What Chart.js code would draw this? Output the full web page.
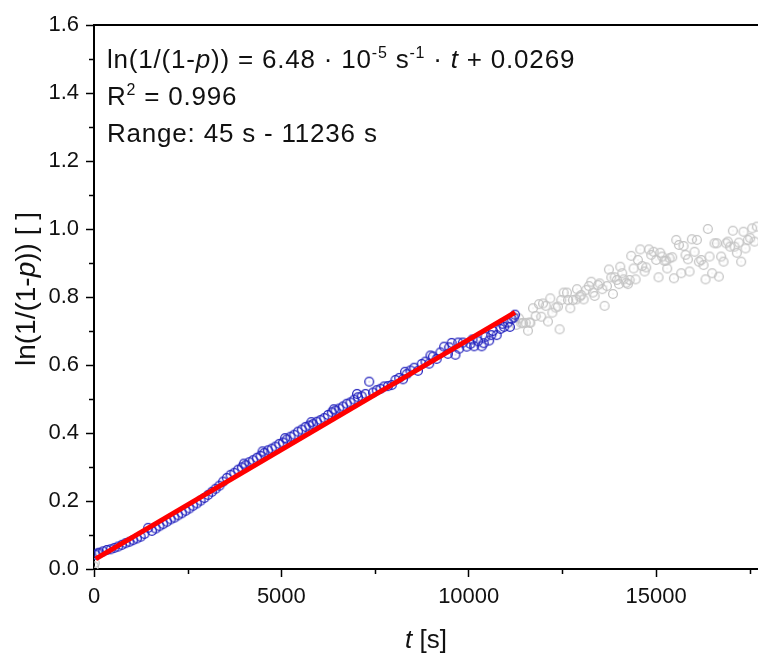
<!DOCTYPE html>
<html>
<head>
<meta charset="utf-8">
<script src="https://cdn.jsdelivr.net/npm/chart.js@4.4.0/dist/chart.umd.min.js"></script>
<style>
    html, body { margin: 0; padding: 0; background: #fff; }
    #wrap { width: 758px; height: 654px; }
</style>
</head>
<body>
<div id="wrap"><canvas id="chart" width="758" height="654"></canvas></div>
<script>
// ===== datos =====

// puntos dentro del rango del ajuste [t (s), ln(1/(1-p))]
const datosAjuste = [
    [45, .042], [100, .046], [145, .048], [245, .052], [345, .056], [445, .058], [545, .062],
    [645, .066], [745, .071], [845, .076], [945, .080], [1045, .085], [1145, .090], [1245, .095],
    [1345, .103], [1445, .121], [1545, .112], [1645, .119], [1745, .126], [1845, .132], [1945, .139],
    [2045, .146], [2145, .151], [2245, .158], [2345, .164], [2445, .171], [2545, .178], [2645, .186],
    [2745, .193], [2845, .201], [2945, .209], [3045, .218], [3145, .227], [3245, .236], [3345, .245],
    [3445, .257], [3545, .268], [3645, .277], [3745, .283], [3845, .292], [3945, .299], [4000, .310],
    [4045, .305], [4145, .314], [4245, .320], [4345, .327], [4445, .333], [4500, .346], [4545, .341],
    [4645, .349], [4745, .354], [4845, .360], [4945, .368], [5045, .372], [5100, .385], [5145, .381],
    [5245, .389], [5345, .395], [5445, .404], [5545, .410], [5645, .418], [5745, .422], [5800, .432],
    [5845, .426], [5945, .433], [6045, .438], [6145, .444], [6245, .453], [6345, .461], [6400, .470],
    [6445, .466], [6545, .472], [6645, .478], [6745, .486], [6845, .490], [6945, .498], [7020, .515],
    [7045, .505], [7145, .508], [7245, .515], [7345, .551], [7445, .519], [7545, .526], [7645, .530],
    [7745, .537], [7845, .538], [7945, .541], [8045, .556], [8145, .562], [8245, .558], [8300, .580],
    [8345, .573], [8445, .584], [8545, .592], [8645, .583], [8745, .603], [8845, .610], [8945, .604],
    [8980, .628], [9045, .625], [9145, .618], [9245, .637], [9345, .654], [9445, .633], [9480, .652],
    [9545, .665], [9645, .630], [9720, .666], [9745, .648], [9845, .666], [9945, .654], [10045, .662],
    [10100, .675], [10145, .655], [10245, .670], [10345, .655], [10400, .664], [10445, .683], [10545, .672],
    [10600, .688], [10645, .700], [10745, .688], [10845, .706], [10900, .721], [10945, .712], [11045, .725],
    [11100, .712], [11145, .735], [11200, .740], [11236, .748]
];

// puntos fuera del rango (grises)
const datosFuera = [
    [0, .008], [22, .018],
    [11271, .718], [11342, .737], [11405, .723], [11449, .723], [11520, .724], [11582, .701], [11626, .725],
    [11644, .724], [11715, .767], [11786, .744], [11875, .779], [11937, .742], [11982, .781], [12053, .774],
    [12115, .728], [12177, .796], [12231, .754], [12320, .769], [12382, .772], [12426, .705], [12471, .791],
    [12533, .813], [12622, .813], [12649, .791], [12711, .767], [12782, .791], [12871, .793], [12889, .823],
    [12960, .801], [13004, .806], [13066, .793], [13137, .821], [13208, .832], [13271, .845], [13315, .813],
    [13360, .803], [13449, .835], [13493, .840], [13564, .823], [13626, .774], [13689, .832], [13742, .881],
    [13804, .858], [13849, .809], [13893, .858], [13955, .850], [14009, .838], [14044, .889], [14097, .870],
    [14133, .852], [14204, .842], [14249, .838], [14293, .850], [14337, .921], [14400, .884], [14453, .852],
    [14515, .909], [14578, .940], [14631, .891], [14693, .875], [14737, .887], [14809, .940], [14871, .924],
    [14933, .933], [15004, .909], [15066, .858], [15111, .930], [15164, .919], [15226, .906], [15271, .907],
    [15297, .884], [15360, .914], [15431, .917], [15475, .855], [15537, .968], [15609, .953], [15671, .870],
    [15733, .950], [15786, .924], [15849, .911], [15893, .875], [15955, .970], [16026, .933], [16089, .968],
    [16142, .904], [16204, .909], [16266, .894], [16320, .852], [16382, 1.000], [16426, .919], [16497, .870],
    [16560, .958], [16622, .958], [16675, .860], [16737, .919], [16800, .904], [16871, .958], [16915, .963],
    [16977, .948], [17049, .995], [17093, .948], [17155, .930], [17209, .960], [17271, .904], [17333, .992],
    [17386, .943], [17449, .968], [17511, .973], [17564, 1.002], [17626, .963], [17689, 1.007]
];

// recta de ajuste: ln(1/(1-p)) = 6.48e-5 * t + 0.0269, de 45 s a 11236 s
const ajusteT = [45, 11236];
const ajusteY = [0.0298, 0.7550];

// ejes
const ejeXMax = 17720;
const ejeYMax = 1.6;
const ticksX = [0, 5000, 10000, 15000];
const ticksY = [0, 0.2, 0.4, 0.6, 0.8, 1.0, 1.2, 1.4, 1.6];
const menoresX = [2500, 7500, 12500, 17500];
const menoresY = [0.1, 0.3, 0.5, 0.7, 0.9, 1.1, 1.3, 1.5];

const FUENTE = '"Liberation Sans", Arial, sans-serif';

// marcador: círculo abierto con punto central
function anillo(color) {
    const c = document.createElement('canvas');
    c.width = 12;
    c.height = 12;
    const g = c.getContext('2d');
    g.strokeStyle = color;
    g.lineWidth = 1.3;
    g.beginPath();
    g.arc(6, 6, 4.4, 0, Math.PI * 2);
    g.stroke();
    g.globalAlpha = 0.5;
    g.fillStyle = color;
    g.fillRect(5.5, 5.5, 1, 1);
    return c;
}

// texto con cursiva y superíndices
function fuenteParte(p, size) {
    const s = p[1] === 'sup' ? Math.round(size * 0.62) : size;
    return (p[1] === 'i' ? 'italic ' : '') + s + 'px ' + FUENTE;
}

function anchoRico(ctx, partes, size) {
    let w = 0;
    partes.forEach(p => {
        ctx.font = fuenteParte(p, size);
        w += ctx.measureText(p[0]).width;
    });
    return w;
}

function textoRico(ctx, partes, x, y, size) {
    let cx = x;
    partes.forEach(p => {
        ctx.font = fuenteParte(p, size);
        const dy = p[1] === 'sup' ? -size * 0.4 : 0;
        ctx.fillText(p[0], cx, y + dy);
        cx += ctx.measureText(p[0]).width;
    });
}

const lineasTexto = [
    [['ln(1/(1-', ''], ['p', 'i'], [')) = 6.48 \u00b7 10', ''], ['-5', 'sup'], [' s', ''], ['-1', 'sup'],
     [' \u00b7 ', ''], ['t', 'i'], [' + 0.0269', '']],
    [['R', ''], ['2', 'sup'], [' = 0.996', '']],
    [['Range: 45 s - 11236 s', '']]
];

const pluginDecoracion = {
    id: 'decoracion',
    afterDraw(chart) {
        const ctx = chart.ctx;
        const a = chart.chartArea;
        const sx = chart.scales.x;
        const sy = chart.scales.y;
        ctx.save();

        // borde superior
        ctx.strokeStyle = '#000';
        ctx.lineWidth = 2;
        ctx.beginPath();
        ctx.moveTo(a.left - 1, a.top);
        ctx.lineTo(chart.width, a.top);
        ctx.stroke();

        // marcas menores
        ctx.lineWidth = 1.5;
        ctx.beginPath();
        menoresX.forEach(v => {
            const px = Math.round(sx.getPixelForValue(v)) + 0.5;
            ctx.moveTo(px, a.bottom);
            ctx.lineTo(px, a.bottom + 5);
        });
        menoresY.forEach(v => {
            const py = Math.round(sy.getPixelForValue(v)) + 0.5;
            ctx.moveTo(a.left, py);
            ctx.lineTo(a.left - 5, py);
        });
        ctx.stroke();

        ctx.fillStyle = '#111';
        ctx.textBaseline = 'alphabetic';
        ctx.textAlign = 'left';

        // anotación del ajuste
        ctx.letterSpacing = '0.8px';
        const bases = [68, 105, 142];
        lineasTexto.forEach((l, i) => textoRico(ctx, l, 107, bases[i], 26));
        ctx.letterSpacing = '0px';

        // título eje x
        const tituloX = [['t', 'i'], [' [s]', '']];
        const wx = anchoRico(ctx, tituloX, 26);
        textoRico(ctx, tituloX, (a.left + a.right) / 2 - wx / 2, 648, 26);

        // título eje y
        const tituloY = [['ln(1/(1-', ''], ['p', 'i'], [')) [ ]', '']];
        const wy = anchoRico(ctx, tituloY, 28);
        ctx.translate(35, (a.top + a.bottom) / 2 - 8);
        ctx.rotate(-Math.PI / 2);
        textoRico(ctx, tituloY, -wy / 2, 0, 28);

        ctx.restore();
    }
};

const aPuntos = arr => arr.map(p => ({ x: p[0], y: p[1] }));

new Chart(document.getElementById('chart'), {
    type: 'scatter',
    data: {
        datasets: [
            {
                type: 'line',
                data: ajusteT.map((t, i) => ({ x: t, y: ajusteY[i] })),
                borderColor: '#ff0000',
                borderWidth: 5,
                pointRadius: 0,
                order: 0
            },
            {
                data: aPuntos(datosAjuste),
                pointStyle: anillo('rgb(35, 35, 190)'),
                order: 1
            },
            {
                data: aPuntos(datosFuera),
                pointStyle: anillo('rgb(196, 196, 196)'),
                order: 2
            }
        ]
    },
    options: {
        responsive: false,
        animation: false,
        layout: { autoPadding: false, padding: { top: 25, left: 0, right: 0, bottom: 0 } },
        plugins: {
            legend: { display: false },
            tooltip: { enabled: false }
        },
        scales: {
            x: {
                type: 'linear',
                min: 0,
                max: ejeXMax,
                afterBuildTicks: s => { s.ticks = ticksX.map(v => ({ value: v })); },
                afterFit: s => { s.height = 85; s.paddingLeft = 0; s.paddingRight = 0; },
                border: { display: true, color: '#000', width: 2 },
                grid: { drawOnChartArea: false, drawTicks: true, tickLength: 8, tickColor: '#000', tickWidth: 1.5 },
                ticks: {
                    maxRotation: 0,
                    autoSkip: false,
                    padding: 7,
                    color: '#111',
                    font: { family: FUENTE, size: 22 },
                    callback: v => String(v)
                }
            },
            y: {
                type: 'linear',
                min: 0,
                max: ejeYMax,
                afterBuildTicks: s => { s.ticks = ticksY.map(v => ({ value: v })); },
                afterFit: s => { s.width = 94; },
                border: { display: true, color: '#000', width: 2 },
                grid: { drawOnChartArea: false, drawTicks: true, tickLength: 8, tickColor: '#000', tickWidth: 1.5 },
                ticks: {
                    autoSkip: false,
                    padding: 7,
                    color: '#111',
                    font: { family: FUENTE, size: 22 },
                    callback: v => v.toFixed(1)
                }
            }
        }
    },
    plugins: [pluginDecoracion]
});
</script>
</body>
</html>
